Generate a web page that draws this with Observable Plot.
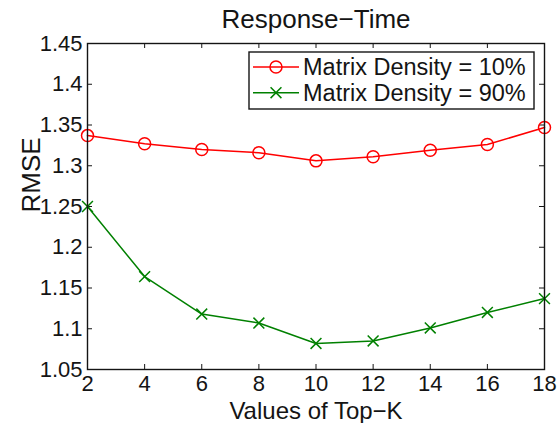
<!DOCTYPE html>
<html>
<head>
<meta charset="utf-8">
<script src="https://cdn.jsdelivr.net/npm/d3@7"></script>
<script src="https://cdn.jsdelivr.net/npm/@observablehq/plot@0.6"></script>
<style>
  html, body { margin: 0; padding: 0; background: #fff; }
  #chart svg { display: block; }
</style>
</head>
<body>
<div id="chart"></div>
<script>
// RMSE of response-time prediction for different Top-K values
const topK = [2, 4, 6, 8, 10, 12, 14, 16, 18];
const density10 = [1.337, 1.327, 1.320, 1.316, 1.306, 1.311, 1.319, 1.326, 1.347];
const density90 = [1.250, 1.164, 1.118, 1.107, 1.082, 1.085, 1.101, 1.120, 1.137];
const seriesNames = ["Matrix Density = 10%", "Matrix Density = 90%"];
const xTicks = [2, 4, 6, 8, 10, 12, 14, 16, 18];
const yTicks = [1.05, 1.1, 1.15, 1.2, 1.25, 1.3, 1.35, 1.4, 1.45];
const titleText = "Response\u2212Time";
const xLabel = "Values of Top\u2212K";
const yLabel = "RMSE";

const W = 559, H = 423;
const margin = {top: 43, right: 15, bottom: 54, left: 87};
const plotW = W - margin.left - margin.right;
const plotH = H - margin.top - margin.bottom;
const font = "'Liberation Sans', Arial, Helvetica, sans-serif";
const ink = "#141414";

const series = [
  {name: seriesNames[0], values: density10, color: "#ff0000", symbol: "circle", r: 6},
  {name: seriesNames[1], values: density90, color: "#008000", symbol: "times", r: 5}
];
const rows = series.flatMap(s => topK.map((k, i) => ({k, v: s.values[i], name: s.name})));

// Boxed legend in the upper-right corner of the frame
function legend(index, scales, values, dims) {
  const g = d3.create("svg:g").attr("text-anchor", "start");
  const right = dims.width - dims.marginRight - 10;
  const top = dims.marginTop + 9;
  const boxW = 285, boxH = 57, rowH = 25.7;
  const x0 = right - boxW;
  g.append("rect")
    .attr("x", x0).attr("y", top).attr("width", boxW).attr("height", boxH)
    .attr("fill", "white").attr("stroke", ink).attr("stroke-width", 1.4);
  series.forEach((s, i) => {
    const y = top + 15 + i * rowH;
    g.append("line")
      .attr("x1", x0 + 4).attr("x2", x0 + 50).attr("y1", y).attr("y2", y)
      .attr("stroke", s.color).attr("stroke-width", 1.5);
    const sym = s.symbol === "circle" ? d3.symbolCircle : d3.symbolTimes;
    g.append("path")
      .attr("d", d3.symbol(sym, Math.PI * s.r * s.r)())
      .attr("transform", `translate(${x0 + 27},${y})`)
      .attr("fill", "none").attr("stroke", s.color).attr("stroke-width", 1.5);
    g.append("text")
      .attr("x", x0 + 54).attr("y", y).attr("dy", "0.35em")
      .attr("font-size", 23.5).attr("fill", ink)
      .text(s.name);
  });
  return g.node();
}

const chart = Plot.plot({
  width: W,
  height: H,
  marginTop: margin.top,
  marginRight: margin.right,
  marginBottom: margin.bottom,
  marginLeft: margin.left,
  style: {fontFamily: font, fontSize: "22px", color: ink, background: "#fff"},
  x: {domain: [2, 18]},
  y: {domain: [1.05, 1.45]},
  color: {domain: series.map(s => s.name), range: series.map(s => s.color)},
  symbol: {domain: series.map(s => s.name), range: series.map(s => s.symbol)},
  marks: [
    Plot.axisX({ticks: xTicks, tickSize: 0, tickPadding: 6, label: null, tickFormat: d => String(d)}),
    Plot.axisY({ticks: yTicks, tickSize: 0, tickPadding: 5, label: null, tickFormat: d => String(d)}),
    // inward ticks on all four sides
    Plot.tickY(yTicks, {y: d => d, insetRight: plotW - 5, stroke: ink}),
    Plot.tickY(yTicks, {y: d => d, insetLeft: plotW - 5, stroke: ink}),
    Plot.tickX(xTicks, {x: d => d, insetTop: plotH - 5, stroke: ink}),
    Plot.tickX(xTicks, {x: d => d, insetBottom: plotH - 5, stroke: ink}),
    Plot.line(rows, {x: "k", y: "v", z: "name", stroke: "name", strokeWidth: 1.5}),
    Plot.dot(rows.filter(d => d.name === seriesNames[0]), {x: "k", y: "v", stroke: "name", symbol: "name", r: series[0].r, strokeWidth: 1.5, fill: "none"}),
    Plot.dot(rows.filter(d => d.name === seriesNames[1]), {x: "k", y: "v", stroke: "name", symbol: "name", r: series[1].r, strokeWidth: 1.5, fill: "none"}),
    Plot.frame({stroke: ink, strokeWidth: 1.4}),
    legend,
    Plot.text([titleText], {text: d => d, frameAnchor: "top", dy: -16, lineAnchor: "bottom", fontSize: 26, fill: ink}),
    Plot.text([xLabel], {text: d => d, frameAnchor: "bottom", dy: 49, lineAnchor: "bottom", fontSize: 24, fill: ink}),
    Plot.text([yLabel], {text: d => d, frameAnchor: "left", rotate: -90, dx: -56, dy: 6, lineAnchor: "middle", fontSize: 26, fill: ink})
  ]
});
document.getElementById("chart").append(chart);
</script>
</body>
</html>
